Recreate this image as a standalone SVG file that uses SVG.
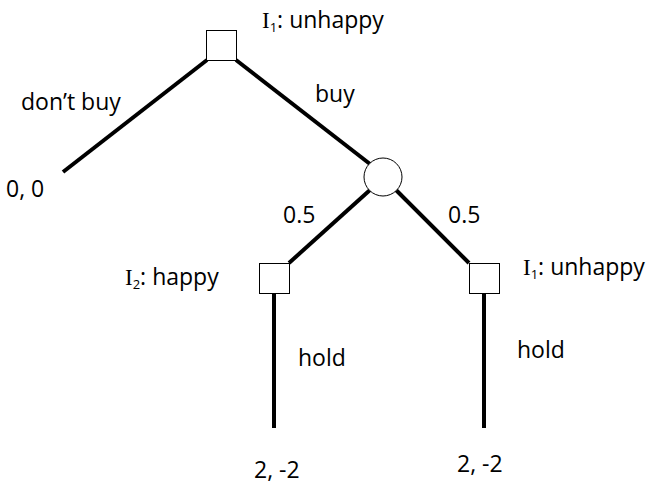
<svg xmlns="http://www.w3.org/2000/svg" width="656" height="489" viewBox="0 0 656 489">
<style>
.t{font-family:"Open Sans","DejaVu Sans",sans-serif;font-size:23px;fill:#000}
.i{font-family:"Liberation Serif",serif}
.sub{font-size:13px}
.box{fill:#fff;stroke:#000;stroke-width:1}
.edge{stroke:#000;stroke-width:4;fill:none}
</style>
<rect width="656" height="489" fill="#fff"/>
<g id="connectors">
<line class="edge" x1="207" y1="60" x2="63" y2="172"/>
<line class="edge" x1="236" y1="60" x2="370" y2="164"/>
<line class="edge" x1="370" y1="190" x2="289" y2="263"/>
<line class="edge" x1="396" y1="190" x2="469" y2="263"/>
<line class="edge" x1="274" y1="293" x2="274" y2="428"/>
<line class="edge" x1="484" y1="293" x2="484" y2="428"/>
</g>
<g id="root">
<rect class="box" x="206.5" y="30.5" width="30" height="30"/>
<text class="t" x="262" y="28"><tspan class="i">I</tspan><tspan class="sub" dy="4">1</tspan><tspan dy="-4">: unhappy</tspan></text>
</g>
<g id="chance">
<circle class="box" cx="383" cy="177" r="19"/>
</g>
<g id="left">
<rect class="box" x="259.5" y="263.5" width="30" height="30"/>
<text class="t" x="125" y="285"><tspan class="i">I</tspan><tspan class="sub" dy="4">2</tspan><tspan dy="-4">: happy</tspan></text>
</g>
<g id="right">
<rect class="box" x="469.5" y="263.5" width="30" height="30"/>
<text class="t" x="523" y="275"><tspan class="i">I</tspan><tspan class="sub" dy="4">1</tspan><tspan dy="-4">: unhappy</tspan></text>
</g>
<g id="labels">
<text class="t" x="21" y="110">don’t buy</text>
<text class="t" x="315" y="102">buy</text>
<text class="t" x="6" y="197">0, 0</text>
<text class="t" x="283" y="223">0.5</text>
<text class="t" x="448" y="223">0.5</text>
<text class="t" x="298" y="366">hold</text>
<text class="t" x="517" y="358">hold</text>
<text class="t" x="254" y="478">2, -2</text>
<text class="t" x="457" y="472">2, -2</text>
</g>
</svg>
